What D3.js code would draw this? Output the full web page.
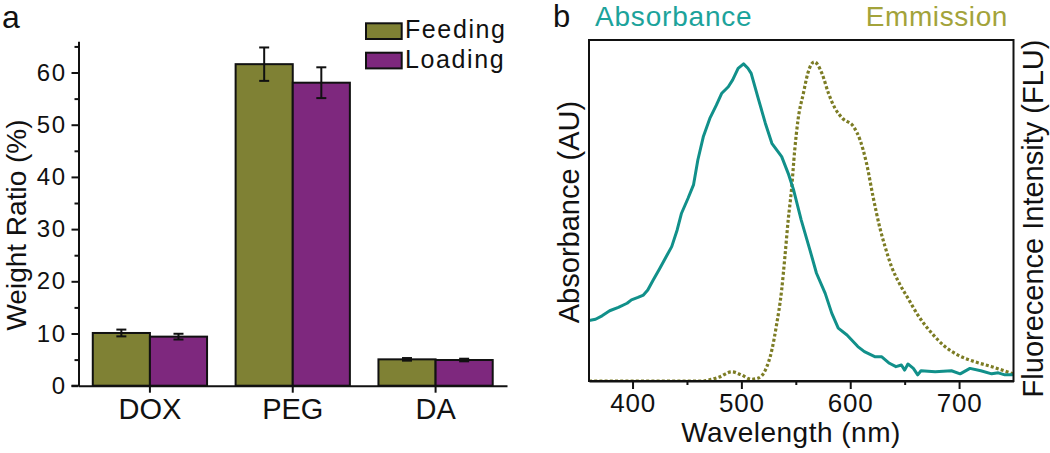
<!DOCTYPE html>
<html>
<head>
<meta charset="utf-8">
<script src="https://cdn.jsdelivr.net/npm/d3@7"></script>
<style>
  body { margin: 0; background: #fff; }
  text { font-family: "Liberation Sans", Arial, sans-serif; fill: #111; }
</style>
</head>
<body>
<script>
// panel a data
var categories = ["DOX", "PEG", "DA"];
var series = ["Feeding", "Loading"];
var feeding = [10.1, 61.6, 5.05];
var feedingErr = [0.65, 3.2, 0.25];
var loading = [9.4, 58.05, 4.92];
var loadingErr = [0.55, 2.95, 0.25];
var yTicks = [0, 10, 20, 30, 40, 50, 60];
var yMinorTicks = [5, 15, 25, 35, 45, 55, 65];

// panel b data (normalised)
var absWavelength = [360, 366, 372, 379, 387, 395, 399, 405, 410, 414, 419, 425, 431, 436, 441, 445, 451, 456, 460, 465,
  471, 477, 482, 488, 492, 497, 502, 506, 509, 515, 522, 528, 537, 543, 548, 555, 563, 569, 577, 583,
  589, 597, 607, 613, 623, 629, 636, 642, 647, 650, 653, 658, 662, 665, 678, 693, 701, 710, 720, 730, 736, 742, 750];
var absorbance = [0.177, 0.181, 0.191, 0.206, 0.216, 0.228, 0.238, 0.245, 0.252, 0.267, 0.296, 0.330, 0.365, 0.394, 0.443, 0.492, 0.536, 0.575, 0.648, 0.716,
  0.770, 0.809, 0.844, 0.863, 0.883, 0.917, 0.930, 0.917, 0.902, 0.834, 0.756, 0.697, 0.658, 0.609, 0.560, 0.472, 0.384, 0.316, 0.257, 0.199,
  0.155, 0.135, 0.101, 0.086, 0.071, 0.071, 0.052, 0.042, 0.047, 0.032, 0.050, 0.037, 0.018, 0.030, 0.027, 0.030, 0.021, 0.037, 0.030, 0.021, 0.024, 0.018, 0.018];
var emWavelength = [360, 465, 470, 480, 491, 500, 509, 515, 522, 528, 532, 537, 540, 543, 546, 549, 552, 557, 561, 567,
  574, 580, 586, 593, 603, 609, 615, 621, 627, 632, 638, 645, 653, 662, 675, 687, 699, 714, 730, 748, 750];
var emission = [0, 0, 0.003, 0.012, 0.027, 0.018, 0.005, 0.008, 0.032, 0.091, 0.159, 0.267, 0.365, 0.472, 0.560, 0.677, 0.765, 0.844, 0.902, 0.936,
  0.902, 0.844, 0.800, 0.770, 0.746, 0.707, 0.638, 0.540, 0.452, 0.394, 0.335, 0.287, 0.243, 0.194, 0.140, 0.101, 0.076, 0.057, 0.042, 0.023, 0.021];
var xTicks = [400, 500, 600, 700];
var xMinorTicks = [450, 550, 650];

var barColors = ["#7f8134", "#7e287e"];
var absColor = "#11908a";
var emColor = "#7c7c24";

var svg = d3.select("body").
  append("svg").
  attr("width", 1050).
  attr("height", 453);

/* ---------- panel a ---------- */
var x0 = d3.scaleBand().domain(categories).range([78.5, 507]).paddingInner(0.2).paddingOuter(0.1);
var x1 = d3.scaleBand().domain(series).range([0, x0.bandwidth()]);
var yA = d3.scaleLinear().domain([0, 66]).range([385.7, 41.2]);
var color = d3.scaleOrdinal().domain(series).range(barColors);

var bars = [];
categories.forEach(function(c, i) {
    bars.push({cat: c, s: "Feeding", v: feeding[i], e: feedingErr[i]});
    bars.push({cat: c, s: "Loading", v: loading[i], e: loadingErr[i]});
});

var panelA = svg.append("g");

panelA.selectAll("rect.bar").data(bars).enter().append("rect")
    .attr("class", "bar")
    .attr("x", function(d) { return x0(d.cat) + x1(d.s); })
    .attr("y", function(d) { return yA(d.v); })
    .attr("width", x1.bandwidth())
    .attr("height", function(d) { return yA(0) - yA(d.v); })
    .attr("fill", function(d) { return color(d.s); })
    .attr("stroke", "#111")
    .attr("stroke-width", 2);

var err = panelA.selectAll("g.err").data(bars).enter().append("g")
    .attr("class", "err")
    .attr("stroke", "#111")
    .attr("stroke-width", 2);
err.append("line")
    .attr("x1", function(d) { return x0(d.cat) + x1(d.s) + x1.bandwidth() / 2; })
    .attr("x2", function(d) { return x0(d.cat) + x1(d.s) + x1.bandwidth() / 2; })
    .attr("y1", function(d) { return yA(d.v + d.e); })
    .attr("y2", function(d) { return yA(d.v - d.e); });
[1, -1].forEach(function(sign) {
    err.append("line")
        .attr("x1", function(d) { return x0(d.cat) + x1(d.s) + x1.bandwidth() / 2 - 5; })
        .attr("x2", function(d) { return x0(d.cat) + x1(d.s) + x1.bandwidth() / 2 + 5; })
        .attr("y1", function(d) { return yA(d.v + sign * d.e); })
        .attr("y2", function(d) { return yA(d.v + sign * d.e); });
});

var yAxisA = panelA.append("g")
    .attr("transform", "translate(78.5,0)")
    .call(d3.axisLeft(yA).tickValues(yTicks).tickSize(7).tickPadding(5).tickSizeOuter(0));
yAxisA.selectAll("text").attr("font-size", 24).style("letter-spacing", "1.5px");

var yMinorA = panelA.append("g")
    .attr("transform", "translate(78.5,0)")
    .call(d3.axisLeft(yA).tickValues(yMinorTicks).tickSize(4).tickFormat("").tickSizeOuter(0));
yMinorA.select(".domain").remove();

var xAxisA = panelA.append("g")
    .attr("transform", "translate(0," + yA(0) + ")")
    .call(d3.axisBottom(x0).tickSize(7).tickPadding(6).tickSizeOuter(0));
xAxisA.selectAll("text").attr("font-size", 29);
panelA.append("line")
    .attr("x1", 71.5).attr("x2", 78.5)
    .attr("y1", yA(0)).attr("y2", yA(0))
    .attr("stroke", "#111").attr("stroke-width", 2);

panelA.selectAll(".domain, .tick line").attr("stroke", "#111").attr("stroke-width", 2);
panelA.selectAll(".tick text").attr("fill", "#111").attr("font-family", "Liberation Sans, Arial, sans-serif");

panelA.append("text")
    .attr("transform", "translate(26,225) rotate(-90)")
    .attr("text-anchor", "middle")
    .attr("font-size", 28)
    .text("Weight Ratio (%)");

panelA.append("text")
    .attr("x", 2).attr("y", 28)
    .attr("font-size", 32)
    .text("a");

// legend
var legend = panelA.selectAll("g.legend").data(series).enter().append("g")
    .attr("class", "legend")
    .attr("transform", function(d, i) { return "translate(366," + (23.3 + i * 29.4) + ")"; });
legend.append("rect")
    .attr("width", 35.7)
    .attr("height", 15.7)
    .attr("fill", function(d) { return color(d); })
    .attr("stroke", "#111")
    .attr("stroke-width", 2);
legend.append("text")
    .attr("x", 39)
    .attr("y", 15)
    .attr("font-size", 25)
    .style("letter-spacing", "1.6px")
    .text(function(d) { return d; });

/* ---------- panel b ---------- */
var xB = d3.scaleLinear().domain([360, 750]).range([589, 1013.5]);
var yB = d3.scaleLinear().domain([0, 1]).range([381, 40]);

var panelB = svg.append("g");

panelB.append("clipPath").attr("id", "frameClip")
    .append("rect")
    .attr("x", xB(360)).attr("y", yB(1))
    .attr("width", xB(750) - xB(360))
    .attr("height", yB(0) - yB(1));

var absData = absWavelength.map(function(w, i) { return [w, absorbance[i]]; });
var emData = emWavelength.map(function(w, i) { return [w, emission[i]]; });

var line = d3.line()
    .x(function(d) { return xB(d[0]); })
    .y(function(d) { return yB(d[1]); });

panelB.append("path")
    .datum(emData)
    .attr("clip-path", "url(#frameClip)")
    .attr("d", line.curve(d3.curveMonotoneX))
    .attr("fill", "none")
    .attr("stroke", emColor)
    .attr("stroke-width", 3.2)
    .attr("stroke-dasharray", "3,2.2");

panelB.append("path")
    .datum(absData)
    .attr("clip-path", "url(#frameClip)")
    .attr("d", line.curve(d3.curveLinear))
    .attr("fill", "none")
    .attr("stroke", absColor)
    .attr("stroke-width", 3)
    .attr("stroke-linejoin", "round");

var xAxisB = panelB.append("g")
    .attr("transform", "translate(0," + yB(0) + ")")
    .call(d3.axisBottom(xB).tickValues(xTicks).tickSize(8).tickPadding(5).tickSizeOuter(0));
xAxisB.selectAll("text").attr("font-size", 26).style("letter-spacing", "0.8px");
var xMinorB = panelB.append("g")
    .attr("transform", "translate(0," + yB(0) + ")")
    .call(d3.axisBottom(xB).tickValues(xMinorTicks).tickSize(4).tickFormat("").tickSizeOuter(0));
xMinorB.select(".domain").remove();

panelB.selectAll(".domain, .tick line").attr("stroke", "#111").attr("stroke-width", 2);
panelB.selectAll(".tick text").attr("fill", "#111").attr("font-family", "Liberation Sans, Arial, sans-serif");

panelB.append("rect")
    .attr("x", xB(360)).attr("y", yB(1))
    .attr("width", xB(750) - xB(360))
    .attr("height", yB(0) - yB(1))
    .attr("fill", "none")
    .attr("stroke", "#111")
    .attr("stroke-width", 2);

panelB.append("text")
    .attr("x", 791).attr("y", 441.7)
    .attr("text-anchor", "middle")
    .attr("font-size", 28)
    .style("letter-spacing", "0.5px")
    .text("Wavelength (nm)");

panelB.append("text")
    .attr("transform", "translate(579,212) rotate(-90)")
    .attr("text-anchor", "middle")
    .attr("font-size", 29)
    .text("Absorbance (AU)");

panelB.append("text")
    .attr("transform", "translate(1043,218.5) rotate(-90)")
    .attr("text-anchor", "middle")
    .attr("font-size", 29)
    .text("Fluorecence Intensity (FLU)");

panelB.append("text")
    .attr("x", 553).attr("y", 27)
    .attr("font-size", 31)
    .text("b");

panelB.append("text")
    .attr("x", 595).attr("y", 26)
    .attr("font-size", 28)
    .style("letter-spacing", "0.8px")
    .style("fill", "#1ca39b")
    .text("Absorbance");

panelB.append("text")
    .attr("x", 1008).attr("y", 26)
    .attr("text-anchor", "end")
    .attr("font-size", 28)
    .style("letter-spacing", "0.6px")
    .style("fill", "#a3a33a")
    .text("Emmission");
</script>
</body>
</html>
